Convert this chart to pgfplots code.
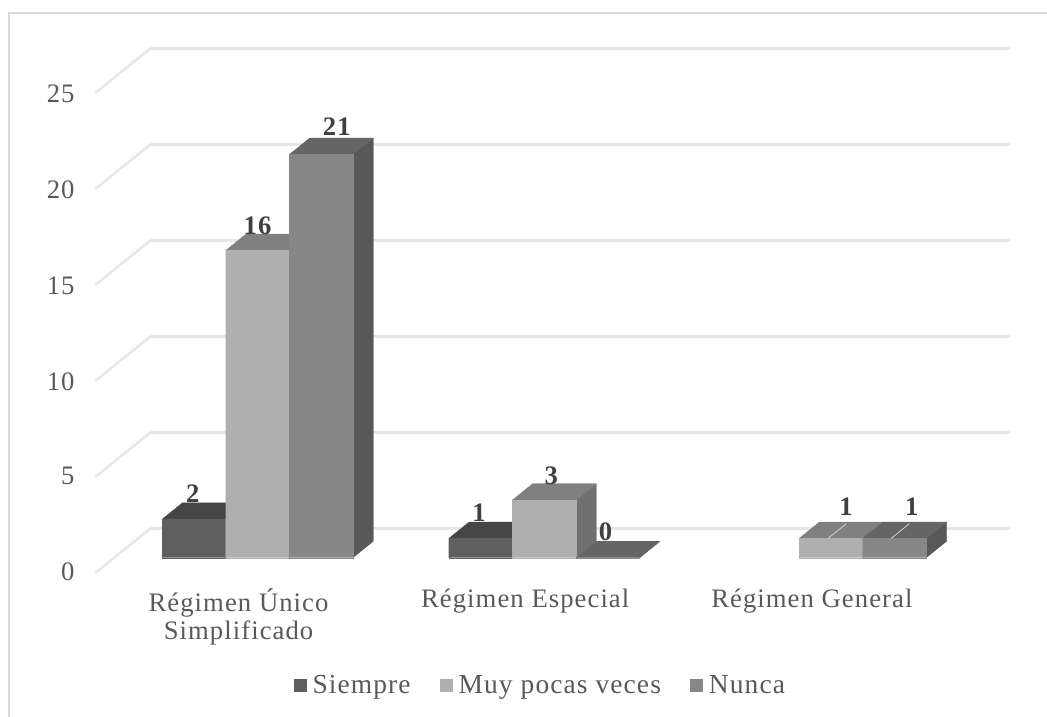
\documentclass[border=0pt]{standalone}
\usepackage{pgfplots}
\pgfplotsset{compat=1.18}
\usepackage{fontspec}
\setmainfont[LetterSpace=4]{Liberation Serif}
\definecolor{gridc}{HTML}{E6E6E6}
\definecolor{framec}{HTML}{D9D9D9}
\definecolor{txtc}{HTML}{595959}
\definecolor{labc}{HTML}{404040}
\definecolor{aF}{HTML}{5F5F5F}\definecolor{aT}{HTML}{454545}\definecolor{aS}{HTML}{4A4A4A}
\definecolor{bF}{HTML}{AFAFAF}\definecolor{bT}{HTML}{808080}\definecolor{bS}{HTML}{707070}
\definecolor{cF}{HTML}{878787}\definecolor{cT}{HTML}{656565}\definecolor{cS}{HTML}{585858}
% #1 left edge, #2 right edge (category units), #3 value, #4 series colour prefix
\newcommand\threedbar[4]{%
 \addplot3[forget plot,fill=#4S,draw=#4S,line width=0.2pt,mark=none] coordinates {(#2,0.345,0) (#2,0.715,0) (#2,0.715,#3) (#2,0.345,#3) (#2,0.345,0)};
 \addplot3[forget plot,fill=#4T,draw=#4T,line width=0.2pt,mark=none] coordinates {(#1,0.345,#3) (#2,0.345,#3) (#2,0.715,#3) (#1,0.715,#3) (#1,0.345,#3)};
 \addplot3[forget plot,fill=#4F,draw=#4F,line width=0.2pt,mark=none] coordinates {(#1,0.345,0) (#2,0.345,0) (#2,0.345,#3) (#1,0.345,#3) (#1,0.345,0)};
}
% #1 x, #2 value, #3 dx px, #4 dy px, text is the value
\newcommand\vlab[4]{\node[anchor=base,inner sep=0pt,text=labc,font=\fontsize{20}{22}\selectfont\bfseries,xshift={0.75*#3},yshift={0.75*#4}] at (axis cs:#1,0.345,#2) {#2};}
\begin{document}
\begin{tikzpicture}
\useasboundingbox (0pt,0pt) rectangle (785.25pt,537.75pt);
\begin{axis}[
  anchor=origin, at={(178.9pt,108pt)},
  x={(215pt,0pt)}, y={(41.25pt,33.3pt)}, z={(0pt,14.4pt)},
  xmin=-0.5,xmax=2.5,ymin=0,ymax=1,zmin=0,zmax=25,
  clip=false,
  axis line style={draw=none},
  major tick length=0pt,
  xtick={0,1,2},
  xticklabels={{Régimen Único\\Simplificado},{Régimen Especial},{Régimen General}},
  ytick=\empty,
  ztick={0,5,...,25},
  zmajorgrids=true,
  grid style={color=gridc,line width=1.9pt},
  /pgf/number format/assume math mode=true,
  ticklabel style={font=\fontsize{20}{20.5}\selectfont,text=txtc},
  x tick label style={anchor=north,align=center,yshift=-8.5pt},
  z tick label style={xshift=-12pt,yshift=4.2pt},
  legend style={at={(axis description cs:0.487,-0.214)},anchor=center,draw=none,fill=none,
    legend columns=3,font=\fontsize{20.6}{22}\selectfont,text=txtc,
    /tikz/every even column/.append style={column sep=20pt}},
  legend image code/.code={\fill[#1,draw=none] (0pt,-4.9pt) rectangle (9.75pt,4.9pt); \path[draw=none,fill=none] (0pt,0pt) -- (12pt,0pt);},
]
\addlegendimage{fill=aF}\addlegendentry{Siempre}
\addlegendimage{fill=bF}\addlegendentry{Muy pocas veces}
\addlegendimage{fill=cF}\addlegendentry{Nunca}
% Régimen Único Simplificado
\threedbar{-0.333}{-0.111}{2}{a}
\threedbar{-0.111}{0.111}{16}{b}
\threedbar{0.111}{0.333}{21}{c}
% Régimen Especial
\threedbar{0.667}{0.889}{1}{a}
\threedbar{0.889}{1.111}{3}{b}
\threedbar{1.111}{1.333}{0}{c}
% Régimen General
\threedbar{1.889}{2.111}{1}{b}
\threedbar{2.111}{2.333}{1}{c}
% leader lines
\addplot3[forget plot,color=gridc!80!gray,line width=0.6pt,mark=none] coordinates {(1.99,0.345,1) (1.99,0.68,1)};
\addplot3[forget plot,color=gridc!80!gray,line width=0.6pt,mark=none] coordinates {(2.21,0.345,1) (2.21,0.68,1)};
\vlab{-0.2233}{2}{-0.7}{16.8}
\vlab{0}{16}{0}{16}
\vlab{0.2233}{21}{15.3}{18.75}
\vlab{0.7767}{1}{-1}{17}
\vlab{1}{3}{7}{16}
\vlab{1.2233}{0}{-2.7}{17.3}
\vlab{2}{1}{15.3}{22.7}
\vlab{2.2233}{1}{17}{22.7}
\end{axis}
\draw[framec,line width=1.5pt] (6.75pt,0pt) -- (6.75pt,528pt) -- (785.25pt,528pt);
\end{tikzpicture}
\end{document}
